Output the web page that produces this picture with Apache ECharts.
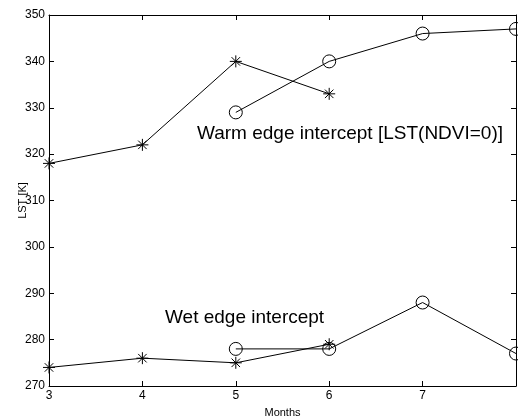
<!DOCTYPE html>
<html><head><meta charset="utf-8">
<script src="https://cdn.jsdelivr.net/npm/echarts@6/dist/echarts.min.js"></script>
<style>html,body{margin:0;padding:0;background:#fff}#c{width:518px;height:419px}</style>
</head><body><div id="c"></div>
<script>
const warmStarMonths = [3, 4, 5, 6];
const warmStarLST = [318, 322, 340, 333];
const warmCircleMonths = [5, 6, 7, 8];
const warmCircleLST = [329, 340, 346, 347];
const wetStarMonths = [3, 4, 5, 6];
const wetStarLST = [274, 276, 275, 279];
const wetCircleMonths = [5, 6, 7, 8];
const wetCircleLST = [278, 278, 288, 277];
const xTickLabels = ['3', '4', '5', '6', '7', ''];
const yTicks = [270, 280, 290, 300, 310, 320, 330, 340, 350];

const FONT = 'Liberation Sans, Arial, sans-serif';
const star = 'path://M0,-10 L0,10 M-10,0 L10,0 M-7.07,-7.07 L7.07,7.07 M-7.07,7.07 L7.07,-7.07';
function zip(xs, ys) { return xs.map((x, i) => [x, ys[i]]); }
function mk(data, sym) {
  const isStar = sym === 'star';
  return {
    type: 'line', data: data,
    symbol: isStar ? star : 'circle',
    symbolSize: isStar ? 12 : 13,
    showAllSymbol: true,
    lineStyle: { color: '#000', width: 1 },
    itemStyle: { color: isStar ? '#000' : 'none', borderColor: '#000', borderWidth: 1 },
    emphasis: { disabled: true },
    animation: false, z: 3
  };
}
const chart = echarts.init(document.getElementById('c'), null, { renderer: 'canvas' });
const axisCommon = {
  axisLine: { show: true, onZero: false, lineStyle: { color: '#000', width: 1 } },
  axisTick: { show: true, inside: true, length: 5, lineStyle: { color: '#000' } },
  splitLine: { show: false }
};
chart.setOption({
  backgroundColor: '#fff',
  animation: false,
  grid: { left: 49, right: 2, top: 15, bottom: 33, containLabel: false, outerBoundsMode: 'none' },
  xAxis: [
    Object.assign({ type: 'value', min: 3, max: 8, interval: 1, position: 'bottom',
      name: 'Months', nameLocation: 'middle', nameGap: 21, nameMoveOverlap: false,
      nameTextStyle: { fontFamily: FONT, fontSize: 11, color: '#000' },
      axisLabel: { fontFamily: FONT, fontSize: 12, color: '#000', margin: 4,
        formatter: v => xTickLabels[Math.round(v - 3)] } }, axisCommon),
    Object.assign({ type: 'value', min: 3, max: 8, interval: 1, position: 'top',
      axisLabel: { show: false } }, axisCommon)
  ],
  yAxis: [
    Object.assign({ type: 'value', min: 270, max: 350, interval: 10, position: 'left',
      name: 'LST [K]', nameLocation: 'middle', nameGap: 21, nameMoveOverlap: false,
      nameTextStyle: { fontFamily: FONT, fontSize: 11, color: '#000' },
      axisLabel: { fontFamily: FONT, fontSize: 12, color: '#000', margin: 4 } }, axisCommon),
    Object.assign({ type: 'value', min: 270, max: 350, interval: 10, position: 'right',
      axisLabel: { show: false } }, axisCommon)
  ],
  series: [
    mk(zip(warmStarMonths, warmStarLST), 'star'),
    mk(zip(warmCircleMonths, warmCircleLST), 'circle'),
    mk(zip(wetStarMonths, wetStarLST), 'star'),
    mk(zip(wetCircleMonths, wetCircleLST), 'circle')
  ],
  graphic: [
    { type: 'text', x: 197, y: 134, z: 10,
      style: { text: 'Warm edge intercept [LST(NDVI=0)]', font: '19px ' + FONT, fill: '#000', verticalAlign: 'middle' } },
    { type: 'text', x: 165, y: 318, z: 10,
      style: { text: 'Wet edge intercept', font: '19px ' + FONT, fill: '#000', verticalAlign: 'middle' } }
  ]
});
</script></body></html>
